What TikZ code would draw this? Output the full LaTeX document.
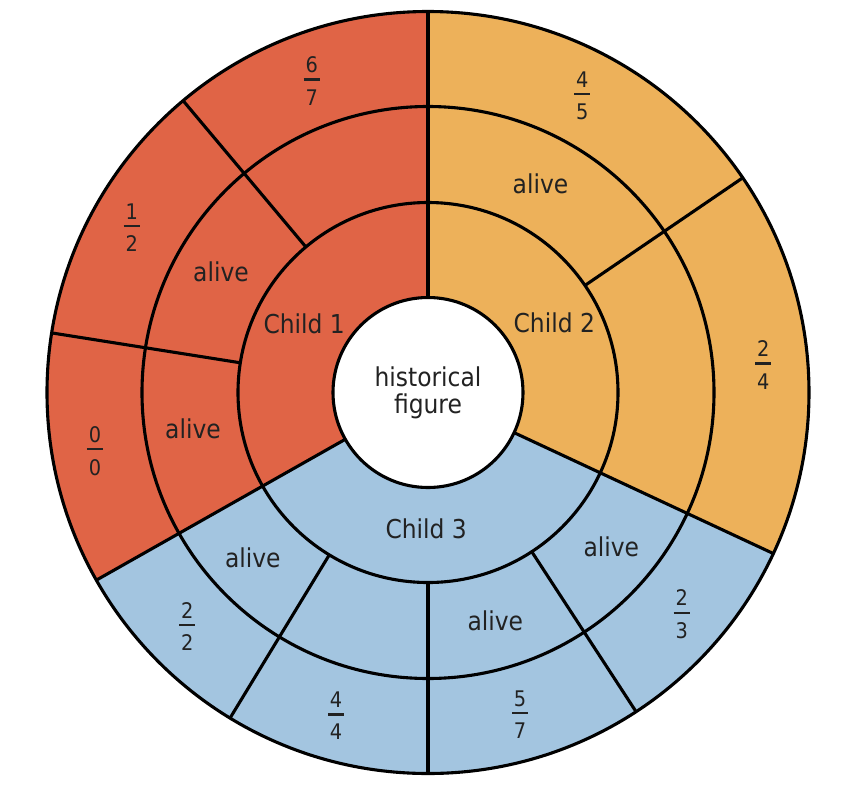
\documentclass[tikz,border=0pt]{standalone}
\usepackage{fontspec}
\setmainfont{DejaVu Sans Condensed}
\usepackage{xcolor}
\usepackage{tikz}
\usetikzlibrary{calc}

\definecolor{redpart}{HTML}{E06446}
\definecolor{orangepart}{HTML}{EDB15A}
\definecolor{bluepart}{HTML}{A3C5E0}
\definecolor{textgray}{HTML}{222222}

\newcommand{\ratio}[2]{#1\\\rule[7.7pt]{16pt}{2.2pt}\\#2}

\begin{document}
\begin{tikzpicture}
		
		\tikzstyle{ring}=[draw=black, line width=3.1pt]
		\tikzstyle{lab}=[inner sep=0pt, text=textgray, font=\fontsize{26}{27}\selectfont, align=center]
		\tikzstyle{fracl}=[inner sep=0pt, text=textgray, font=\fontsize{21.5}{15.5}\selectfont, align=center]
		
		\useasboundingbox (-428pt,-403.5pt) rectangle (438pt,392.5pt);
		
		%% the three children
		\fill [redpart] (0,0) -- (90:381pt) arc (90:209.5:381pt) -- cycle;
		\fill [bluepart] (0,0) -- (209.5:381pt) arc (209.5:335:381pt) -- cycle;
		\fill [orangepart] (0,0) -- (-25:381pt) arc (-25:90:381pt) -- cycle;
		
		\draw [ring] (0,0) circle (190pt);
		\draw [ring] (0,0) circle (286pt);
		\draw [ring] (0,0) circle (381pt);
		
		\foreach \a in {90, 209.5, 335}
			\draw [ring] (\a:95pt) -- (\a:381pt);
		\foreach \a in {34.3, 130, 171, 238.7, 270, 303.1}
			\draw [ring] (\a:190pt) -- (\a:381pt);
		
		\node (root) at (0,0) [circle, ring, fill=white, minimum size=190pt, lab] {historical\\figure};
		
		\node (child1) at (-123.8pt, 68.8pt) [lab] {Child 1};
		\node (child2) at (126.3pt, 69.5pt) [lab] {Child 2};
		\node (child3) at (-1.8pt, -136.2pt) [lab] {Child 3};
		
		\node (alive11) at (-207pt, 120.8pt) [lab] {alive};
		\node (alive12) at (-235pt, -35.8pt) [lab] {alive};
		\node (alive21) at (112.5pt, 208.7pt) [lab] {alive};
		\node (alive31) at (-175.2pt, -165.3pt) [lab] {alive};
		\node (alive33) at (67.3pt, -228.7pt) [lab] {alive};
		\node (alive34) at (183.3pt, -153.8pt) [lab] {alive};
		
		\node (r11) at (-116.3pt, 311.5pt) [fracl] {\ratio{6}{7}};
		\node (r12) at (-296.3pt, 164.8pt) [fracl] {\ratio{1}{2}};
		\node (r13) at (-333pt, -58.5pt) [fracl] {\ratio{0}{0}};
		\node (r21) at (154.3pt, 296.5pt) [fracl] {\ratio{4}{5}};
		\node (r22) at (335.3pt, 27.5pt) [fracl] {\ratio{2}{4}};
		\node (r31) at (-240.7pt, -234.2pt) [fracl] {\ratio{2}{2}};
		\node (r32) at (-92pt, -323.5pt) [fracl] {\ratio{4}{4}};
		\node (r33) at (92pt, -321.8pt) [fracl] {\ratio{5}{7}};
		\node (r34) at (253.7pt, -221.8pt) [fracl] {\ratio{2}{3}};
		
		\end{tikzpicture}
\end{document}
